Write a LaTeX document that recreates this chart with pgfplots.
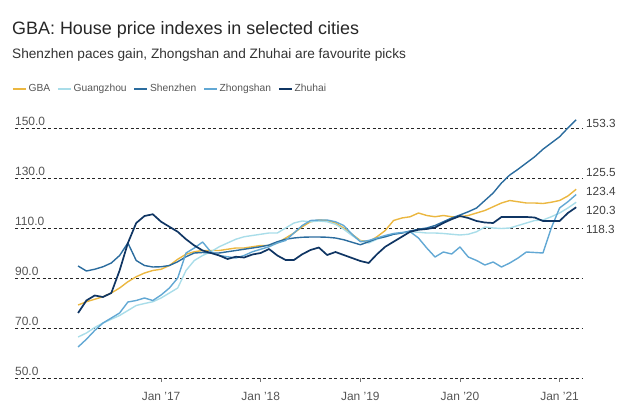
\documentclass[border=0pt]{standalone}
\usepackage{fontspec}
\setmainfont{Liberation Sans}
\usepackage{pgfplots}
\pgfplotsset{compat=1.18}
\usepackage{pgfplotstable}
\definecolor{cGBA}{HTML}{EBB740}
\definecolor{cGZ}{HTML}{A9DDE9}
\definecolor{cSZ}{HTML}{2B6C9E}
\definecolor{cZS}{HTML}{62A8D4}
\definecolor{cZH}{HTML}{0F3563}
\definecolor{ctxt}{HTML}{555555}
\pgfplotstableread{
m gba gz sz zs zh
2 79.2 66.4 94.8 62.4 76.0
3 80.5 68.0 92.8 65.5 81.0
4 81.5 70.2 93.5 69.0 83.0
5 82.5 72.0 94.5 72.0 82.4
6 84.0 73.5 96.0 74.0 84.0
7 86.0 75.0 99.0 76.0 93.0
8 88.5 77.0 104.0 80.4 104.0
9 90.5 79.0 97.0 81.0 112.0
10 92.0 79.8 95.0 82.0 114.8
11 93.0 80.5 94.4 81.0 115.5
12 93.5 82.0 94.5 83.2 112.5
13 95.0 84.0 95.0 86.0 110.5
14 97.5 86.0 96.5 90.0 108.5
15 99.5 93.0 98.5 100.0 105.5
16 100.5 97.0 100.0 102.0 103.0
17 101.0 99.0 100.2 104.4 101.0
18 101.0 100.5 100.0 100.4 100.0
19 101.0 102.5 100.0 99.0 99.0
20 101.5 104.0 100.5 98.5 97.6
21 102.0 105.5 101.0 98.0 98.5
22 102.0 106.5 101.5 99.0 98.2
23 102.5 107.0 102.0 100.5 99.4
24 103.0 107.5 102.5 101.5 100.0
25 103.0 108.0 103.2 102.5 101.6
26 104.0 108.0 104.5 104.0 99.0
27 106.0 110.0 105.5 105.0 97.2
28 108.0 112.0 106.0 108.0 97.2
29 110.5 112.8 106.3 111.0 99.5
30 112.5 112.5 106.4 113.0 101.2
31 113.2 112.8 106.4 113.2 102.2
32 113.0 112.5 106.3 113.2 99.2
33 112.0 111.5 106.0 112.5 100.4
34 110.0 109.5 105.3 111.0 99.2
35 107.5 107.0 104.3 107.5 98.0
36 105.0 104.8 103.3 104.5 96.8
37 104.5 104.0 104.5 105.0 96.0
38 106.5 105.5 105.8 106.0 99.5
39 109.0 106.5 106.5 107.0 102.5
40 113.0 107.5 107.5 107.8 104.5
41 114.0 108.0 108.0 108.2 106.5
42 114.5 108.5 108.8 108.5 108.5
43 116.0 108.3 109.5 106.0 109.3
44 115.0 108.0 110.0 102.0 109.6
45 114.5 108.0 111.0 98.4 110.2
46 115.0 107.8 112.5 100.4 112.0
47 114.5 107.5 114.0 99.6 113.5
48 114.5 107.2 115.2 102.4 114.8
49 115.0 107.5 116.5 98.4 114.0
50 116.0 108.5 118.0 97.0 112.8
51 117.0 110.4 121.0 95.2 112.2
52 118.5 110.0 124.0 96.4 112.0
53 120.0 109.8 128.0 94.4 114.4
54 121.0 110.0 131.2 96.0 114.4
55 120.5 111.0 133.5 98.0 114.4
56 120.0 112.0 136.0 100.4 114.4
57 120.0 113.0 138.5 100.2 114.2
58 119.8 113.2 141.5 100.0 112.8
59 120.3 114.5 144.0 110.0 112.8
60 121.0 116.0 146.5 118.0 112.8
61 122.8 118.0 150.0 120.5 116.0
62 125.5 120.3 153.3 123.4 118.3
}\datatab
\begin{document}
\begin{tikzpicture}
\useasboundingbox (-15bp,-38bp) rectangle (625bp,378bp);
\begin{axis}[
  scale only axis, width=567bp, height=260bp,
  xmin=-5.6, xmax=62.7, ymin=50, ymax=154,
  axis line style={draw=none},
  ytick={50,70,90,110,130,150},
  ymajorgrids,
  grid style={dash pattern=on 3bp off 2.5bp, line width=0.9bp, color=black!85},
  ytick style={draw=none},
  xtick={12,24,36,48,60},
  xticklabels={Jan '17,Jan '18,Jan '19,Jan '20,Jan '21},
  xtick style={draw=black!55, line width=0.7bp},
  tick align=outside, major tick length=4bp,
  xtick pos=bottom, ytick pos=left,
  /pgf/number format/fixed, /pgf/number format/fixed zerofill,
  /pgf/number format/precision=1, /pgf/number format/assume math mode=true,
  yticklabel style={anchor=south west, inner xsep=0pt, inner ysep=2.5bp, xshift=4bp, font=\fontsize{12}{14}\selectfont, text=ctxt},
  xticklabel style={font=\fontsize{12}{14}\selectfont, text=ctxt, yshift=-7bp},
  legend columns=5,
  legend style={at={(0,1)}, anchor=west, xshift=-3bp, yshift=29bp, draw=none, fill=none,
    font=\fontsize{10.3}{12}\selectfont, text=ctxt, inner sep=0pt,
    /tikz/every even column/.append style={column sep=5bp}},
  legend image code/.code={\draw[#1] (0bp,0bp) -- (13bp,0bp);},
  every axis plot/.append style={line join=round},
]
\addplot[cGBA, line width=1.4bp] table[x=m,y=gba] {\datatab};
\addlegendentry{GBA}
\addplot[cGZ, line width=1.4bp] table[x=m,y=gz] {\datatab};
\addlegendentry{Guangzhou}
\addplot[cSZ, line width=1.4bp] table[x=m,y=sz] {\datatab};
\addlegendentry{Shenzhen}
\addplot[cZS, line width=1.4bp] table[x=m,y=zs] {\datatab};
\addlegendentry{Zhongshan}
\addplot[cZH, line width=1.7bp] table[x=m,y=zh] {\datatab};
\addlegendentry{Zhuhai}
\end{axis}
\node[anchor=base west, inner sep=0pt, text=black!85, font=\fontsize{18}{21}\selectfont] at (-3bp,343bp) {GBA: House price indexes in selected cities};
\node[anchor=base west, inner sep=0pt, text=black!80, font=\fontsize{13.7}{16}\selectfont] at (-3bp,319bp) {Shenzhen paces gain, Zhongshan and Zhuhai are favourite picks};
\begin{scope}[every node/.style={anchor=west, inner sep=0pt, text=black!75, font=\fontsize{11.8}{14}\selectfont}]
\node at (571bp,255bp) {153.3};
\node at (571bp,206bp) {125.5};
\node at (571bp,187bp) {123.4};
\node at (571bp,168bp) {120.3};
\node at (571bp,149bp) {118.3};
\end{scope}
\end{tikzpicture}
\end{document}
